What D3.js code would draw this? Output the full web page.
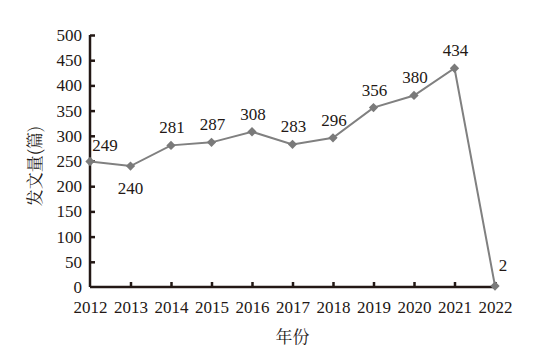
<!DOCTYPE html>
<html><head><meta charset="utf-8">
<script src="https://cdn.jsdelivr.net/npm/d3@7"></script>
<style>body{margin:0;background:#fff}svg{display:block}
.sf{font-family:"Liberation Serif","Times New Roman",Times,"DejaVu Serif",serif}
</style>
</head><body>
<svg id="c" width="537" height="353"></svg>
<script>
const years = ["2012","2013","2014","2015","2016","2017","2018","2019","2020","2021","2022"];
const counts = [249,240,281,287,308,283,296,356,380,434,2];
const yTicks = [0,50,100,150,200,250,300,350,400,450,500];

const svg = d3.select("#c");
const m = {l:90, r:42, t:35, b:66};
const W = 537, H = 353;
const x = d3.scalePoint().domain(years).range([m.l, W - m.r]);
const y = d3.scaleLinear().domain([0,500]).range([H - m.b, m.t]);

const gy = svg.append("g").attr("transform",`translate(${m.l},0)`)
  .call(d3.axisLeft(y).tickValues(yTicks).tickSize(-5).tickPadding(8).tickFormat(d3.format("d")));
const gx = svg.append("g").attr("transform",`translate(0,${H-m.b})`)
  .call(d3.axisBottom(x).tickSize(-5).tickPadding(10));
[gy,gx].forEach(g=>{
  g.attr("font-family",null).attr("font-size",null);
  g.select(".domain").attr("stroke","#231815").attr("stroke-width",2.5);
  g.selectAll(".tick line").attr("stroke","#231815").attr("stroke-width",2.5);
  g.selectAll("text").attr("class","sf").style("font-size","17px").attr("fill","#231815");
});
gy.select(".domain").attr("d",`M0,${y(500)}V${y(0)}`);
gx.select(".domain").attr("d",`M${m.l},0H${x("2022")}`);
gx.selectAll(".tick").filter(d=>d==="2012").select("line").remove();
gy.selectAll(".tick").filter(d=>d===0).select("line").remove();
gx.selectAll("text").attr("dy","0.95em");

const line = d3.line().x((d,i)=>x(years[i])).y(d=>y(d));
svg.append("path").datum(counts).attr("d",line).attr("fill","none")
  .attr("stroke","#808080").attr("stroke-width",2);
svg.selectAll(".pt").data(counts).enter().append("path")
  .attr("d",d3.symbol().type(d3.symbolDiamond2).size(55))
  .attr("transform",(d,i)=>`translate(${x(years[i])},${y(d)})`)
  .attr("fill","#7a7a7a");

const offs = {"2012":[15,-11],"2013":[0,28],"2022":[8,-15]};
svg.selectAll(".lb").data(counts).enter().append("text").attr("class","sf")
  .attr("x",(d,i)=>x(years[i])+(offs[years[i]]?offs[years[i]][0]:1))
  .attr("y",(d,i)=>y(d)+(offs[years[i]]?offs[years[i]][1]:-12))
  .attr("text-anchor","middle").style("font-size","17px")
  .attr("fill","#231815").text(d=>d);

svg.append("text").attr("x",(m.l + x("2022"))/2).attr("y",343)
  .attr("text-anchor","middle").style("font-family","'Noto Serif CJK SC','Noto Sans CJK SC',serif")
  .style("font-size","17px").attr("fill","#231815").text("年份");
svg.append("text").attr("transform",`translate(41,166) rotate(-90)`)
  .attr("text-anchor","middle").style("font-family","'Noto Serif CJK SC','Noto Sans CJK SC',serif")
  .style("font-size","17px").attr("fill","#231815").text("发文量(篇)");
</script>
</body></html>
